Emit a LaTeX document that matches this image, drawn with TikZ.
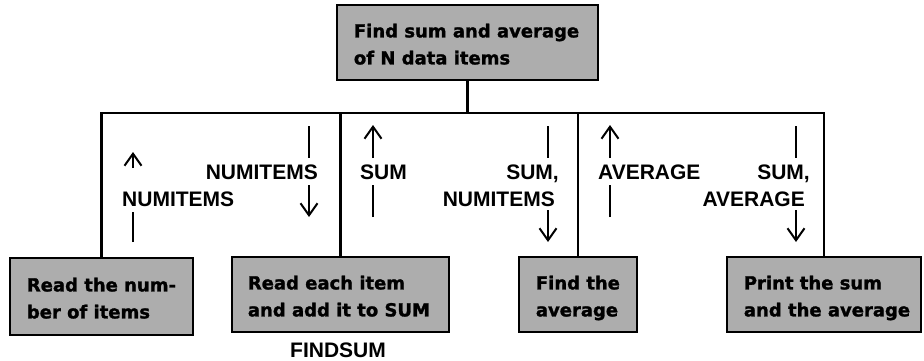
\documentclass[tikz,border=0pt]{standalone}
\usepackage{fontspec}
\setmainfont{Liberation Sans}
\newfontfamily\boxfont{DejaVu Sans}[BoldFeatures={FakeBold=1.5}]
\usetikzlibrary{arrows.meta}
\begin{document}
\begin{tikzpicture}[x=1pt,y=-1pt,
  box/.style={draw=black, line width=2.6pt, fill=black!32, inner sep=0pt, minimum height=75pt},
  boxtext/.style={anchor=west, align=left, inner sep=0pt, yshift=-3pt,
    font={\boxfont\bfseries\fontsize{18}{27}\selectfont}},
  lbl/.style={inner sep=0pt, font={\bfseries\fontsize{21}{24}\selectfont}},
  conn/.style={line width=2.2pt},
  flow/.style={line width=2pt},
  tip/.style={flow, -{Straight Barb[length=12pt,width=17pt,line width=2pt]}}
]
\useasboundingbox (0,0) rectangle (924,361);

% boxes
\node[box, minimum width=261pt] (top) at (467.5,42.5) {};
\node[box, minimum width=183pt, minimum height=77pt] (b1) at (101.5,296.5) {};
\node[box, minimum width=217pt] (b2) at (340.5,294.5) {};
\node[box, minimum width=118pt] (b3) at (578,294.5) {};
\node[box, minimum width=194pt] (b4) at (824,294.5) {};

\node[boxtext] (ttop) at ([xshift=18pt]top.west) {Find sum and average\strut\\of N data items\strut};
\node[boxtext] (t1) at ([xshift=18pt]b1.west) {Read the num-\strut\\ber of items\strut};
\node[boxtext] (t2) at ([xshift=17pt]b2.west) {Read each item\strut\\and add it to SUM\strut};
\node[boxtext] (t3) at ([xshift=18pt]b3.west) {Find the\strut\\average\strut};
\node[boxtext] (t4) at ([xshift=18pt]b4.west) {Print the sum\strut\\and the average\strut};

\node[lbl, anchor=base] (fs) at (338,357) {FINDSUM};

% tree connectors
\coordinate (bus) at (467.5,113);
\draw[conn] (top.south) -- (bus);
\draw[conn] (b1.north) |- (bus) -| (b4.north);
\draw[conn] (b2.north) -- (b2.north |- bus);
\draw[conn] (b3.north) -- (b3.north |- bus);

% labels
\node[lbl, anchor=base west] (l1) at (122,206) {NUMITEMS};
\node[lbl, anchor=base east] (l2) at (318,179) {NUMITEMS};
\node[lbl, anchor=base west] (l3) at (360,179) {SUM};
\node[lbl, anchor=base east] (l4a) at (559,179) {SUM,};
\node[lbl, anchor=base east] (l4b) at (555,206) {NUMITEMS};
\node[lbl, anchor=base west] (l5) at (598,179) {AVERAGE};
\node[lbl, anchor=base east] (l6a) at (810,179) {SUM,};
\node[lbl, anchor=base east] (l6b) at (805,206) {AVERAGE};

% data-flow arrows
\coordinate (a1s) at (133,242); \coordinate (a1m) at (133,212);
\coordinate (a1n) at (133,168); \coordinate (a1t) at (133,152);
\draw[flow] (a1s) -- (a1m);
\draw[tip] (a1n) -- (a1t);

\coordinate (a2s) at (309,126); \coordinate (a2m) at (309,158);
\coordinate (a2n) at (309,185); \coordinate (a2t) at (309,217);
\draw[flow] (a2s) -- (a2m);
\draw[tip] (a2n) -- (a2t);

\coordinate (a3s) at (373,217); \coordinate (a3m) at (373,185);
\coordinate (a3n) at (373,158); \coordinate (a3t) at (373,125);
\draw[flow] (a3s) -- (a3m);
\draw[tip] (a3n) -- (a3t);

\coordinate (a4s) at (548,126); \coordinate (a4m) at (548,158);
\coordinate (a4n) at (548,210); \coordinate (a4t) at (548,242);
\draw[flow] (a4s) -- (a4m);
\draw[tip] (a4n) -- (a4t);

\coordinate (a5s) at (610,217); \coordinate (a5m) at (610,185);
\coordinate (a5n) at (610,158); \coordinate (a5t) at (610,125);
\draw[flow] (a5s) -- (a5m);
\draw[tip] (a5n) -- (a5t);

\coordinate (a6s) at (796,126); \coordinate (a6m) at (796,158);
\coordinate (a6n) at (796,210); \coordinate (a6t) at (796,242);
\draw[flow] (a6s) -- (a6m);
\draw[tip] (a6n) -- (a6t);
\end{tikzpicture}
\end{document}
